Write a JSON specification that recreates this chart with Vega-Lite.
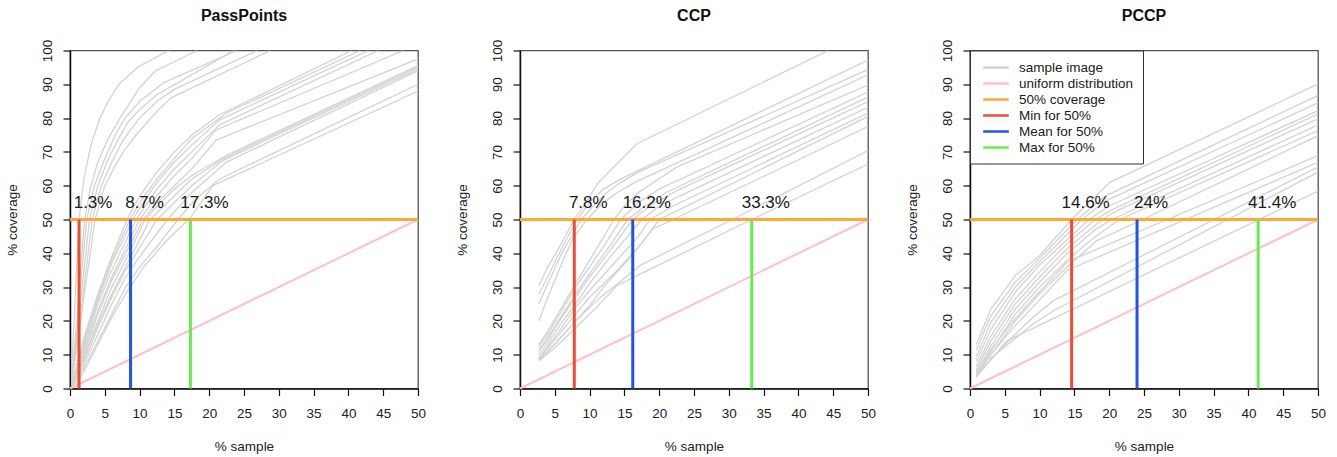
{
  "$schema": "https://vega.github.io/schema/vega-lite/v6.json",
  "background": "white",
  "padding": {"left": 4, "top": 7.5, "right": 5, "bottom": 5},
  "bounds": "flush",
  "spacing": 102,
  "datasets": {
    "curves": [
      {"p":"PassPoints","c":"A1","x":0.3,"y":8},{"p":"PassPoints","c":"A1","x":0.7,"y":25},{"p":"PassPoints","c":"A1","x":1.0,"y":38},{"p":"PassPoints","c":"A1","x":1.3,"y":50},{"p":"PassPoints","c":"A1","x":2,"y":62},{"p":"PassPoints","c":"A1","x":3,"y":72},{"p":"PassPoints","c":"A1","x":4.3,"y":80},{"p":"PassPoints","c":"A1","x":5.5,"y":85},{"p":"PassPoints","c":"A1","x":7,"y":90},{"p":"PassPoints","c":"A1","x":9.7,"y":95},{"p":"PassPoints","c":"A1","x":14.2,"y":100},
      {"p":"PassPoints","c":"A2","x":0.3,"y":5},{"p":"PassPoints","c":"A2","x":1,"y":20},{"p":"PassPoints","c":"A2","x":1.5,"y":35},{"p":"PassPoints","c":"A2","x":2.1,"y":50},{"p":"PassPoints","c":"A2","x":3,"y":60},{"p":"PassPoints","c":"A2","x":4,"y":67},{"p":"PassPoints","c":"A2","x":5.5,"y":74},{"p":"PassPoints","c":"A2","x":7.2,"y":80},{"p":"PassPoints","c":"A2","x":10,"y":89},{"p":"PassPoints","c":"A2","x":12.3,"y":94},{"p":"PassPoints","c":"A2","x":18.3,"y":100},
      {"p":"PassPoints","c":"A3","x":0.3,"y":4},{"p":"PassPoints","c":"A3","x":1,"y":17},{"p":"PassPoints","c":"A3","x":1.7,"y":35},{"p":"PassPoints","c":"A3","x":2.4,"y":50},{"p":"PassPoints","c":"A3","x":3.5,"y":60},{"p":"PassPoints","c":"A3","x":5,"y":68},{"p":"PassPoints","c":"A3","x":6.5,"y":75},{"p":"PassPoints","c":"A3","x":7.9,"y":80},{"p":"PassPoints","c":"A3","x":10,"y":85},{"p":"PassPoints","c":"A3","x":13.5,"y":90.5},{"p":"PassPoints","c":"A3","x":24,"y":100},
      {"p":"PassPoints","c":"A4","x":0.3,"y":4},{"p":"PassPoints","c":"A4","x":1,"y":15},{"p":"PassPoints","c":"A4","x":2,"y":35},{"p":"PassPoints","c":"A4","x":2.8,"y":50},{"p":"PassPoints","c":"A4","x":4,"y":60},{"p":"PassPoints","c":"A4","x":5.5,"y":68},{"p":"PassPoints","c":"A4","x":7,"y":74},{"p":"PassPoints","c":"A4","x":8.4,"y":79},{"p":"PassPoints","c":"A4","x":10,"y":82.5},{"p":"PassPoints","c":"A4","x":12.5,"y":87},{"p":"PassPoints","c":"A4","x":16,"y":91},{"p":"PassPoints","c":"A4","x":23.5,"y":100},
      {"p":"PassPoints","c":"A5","x":0.3,"y":3},{"p":"PassPoints","c":"A5","x":1,"y":13},{"p":"PassPoints","c":"A5","x":2,"y":30},{"p":"PassPoints","c":"A5","x":3.2,"y":50},{"p":"PassPoints","c":"A5","x":4.5,"y":60},{"p":"PassPoints","c":"A5","x":6,"y":67},{"p":"PassPoints","c":"A5","x":7.5,"y":73},{"p":"PassPoints","c":"A5","x":8.5,"y":76},{"p":"PassPoints","c":"A5","x":10,"y":80},{"p":"PassPoints","c":"A5","x":12.5,"y":85},{"p":"PassPoints","c":"A5","x":15,"y":88.5},{"p":"PassPoints","c":"A5","x":26.9,"y":100},
      {"p":"PassPoints","c":"A6","x":0.3,"y":3},{"p":"PassPoints","c":"A6","x":1,"y":12},{"p":"PassPoints","c":"A6","x":2,"y":27},{"p":"PassPoints","c":"A6","x":3.6,"y":50},{"p":"PassPoints","c":"A6","x":5,"y":60},{"p":"PassPoints","c":"A6","x":6.5,"y":66},{"p":"PassPoints","c":"A6","x":8,"y":71},{"p":"PassPoints","c":"A6","x":9.5,"y":75},{"p":"PassPoints","c":"A6","x":12.5,"y":82},{"p":"PassPoints","c":"A6","x":14.5,"y":86},{"p":"PassPoints","c":"A6","x":28.8,"y":100},
      {"p":"PassPoints","c":"B1","x":0.3,"y":2},{"p":"PassPoints","c":"B1","x":1,"y":7},{"p":"PassPoints","c":"B1","x":2,"y":15},{"p":"PassPoints","c":"B1","x":4,"y":28},{"p":"PassPoints","c":"B1","x":6,"y":39},{"p":"PassPoints","c":"B1","x":8.2,"y":50},{"p":"PassPoints","c":"B1","x":10,"y":57},{"p":"PassPoints","c":"B1","x":12.5,"y":64},{"p":"PassPoints","c":"B1","x":15,"y":70},{"p":"PassPoints","c":"B1","x":17.5,"y":75},{"p":"PassPoints","c":"B1","x":21.5,"y":81},{"p":"PassPoints","c":"B1","x":40.5,"y":100},
      {"p":"PassPoints","c":"B2","x":0.3,"y":2},{"p":"PassPoints","c":"B2","x":1,"y":7},{"p":"PassPoints","c":"B2","x":2,"y":14},{"p":"PassPoints","c":"B2","x":4,"y":27},{"p":"PassPoints","c":"B2","x":6,"y":38},{"p":"PassPoints","c":"B2","x":8.6,"y":50},{"p":"PassPoints","c":"B2","x":10,"y":55},{"p":"PassPoints","c":"B2","x":12.5,"y":62},{"p":"PassPoints","c":"B2","x":15,"y":68},{"p":"PassPoints","c":"B2","x":17.5,"y":74},{"p":"PassPoints","c":"B2","x":22.5,"y":81.5},{"p":"PassPoints","c":"B2","x":41.7,"y":100},
      {"p":"PassPoints","c":"B3","x":0.3,"y":2},{"p":"PassPoints","c":"B3","x":1,"y":6},{"p":"PassPoints","c":"B3","x":2,"y":13},{"p":"PassPoints","c":"B3","x":4,"y":26},{"p":"PassPoints","c":"B3","x":6,"y":37},{"p":"PassPoints","c":"B3","x":9,"y":50},{"p":"PassPoints","c":"B3","x":10.5,"y":55},{"p":"PassPoints","c":"B3","x":12.5,"y":61},{"p":"PassPoints","c":"B3","x":15,"y":67},{"p":"PassPoints","c":"B3","x":17.5,"y":72},{"p":"PassPoints","c":"B3","x":21.5,"y":79.5},{"p":"PassPoints","c":"B3","x":42.9,"y":100},
      {"p":"PassPoints","c":"B4","x":0.3,"y":1.5},{"p":"PassPoints","c":"B4","x":1,"y":6},{"p":"PassPoints","c":"B4","x":2,"y":12},{"p":"PassPoints","c":"B4","x":4,"y":25},{"p":"PassPoints","c":"B4","x":6,"y":35},{"p":"PassPoints","c":"B4","x":9.5,"y":50},{"p":"PassPoints","c":"B4","x":12.5,"y":59},{"p":"PassPoints","c":"B4","x":15,"y":65},{"p":"PassPoints","c":"B4","x":17.5,"y":70},{"p":"PassPoints","c":"B4","x":21.5,"y":78},{"p":"PassPoints","c":"B4","x":44.3,"y":100},
      {"p":"PassPoints","c":"B5","x":0.3,"y":1.5},{"p":"PassPoints","c":"B5","x":1,"y":5},{"p":"PassPoints","c":"B5","x":2,"y":11},{"p":"PassPoints","c":"B5","x":4,"y":23},{"p":"PassPoints","c":"B5","x":6,"y":33},{"p":"PassPoints","c":"B5","x":10,"y":50},{"p":"PassPoints","c":"B5","x":12.5,"y":57},{"p":"PassPoints","c":"B5","x":15,"y":63},{"p":"PassPoints","c":"B5","x":17.5,"y":68},{"p":"PassPoints","c":"B5","x":21,"y":76.5},{"p":"PassPoints","c":"B5","x":47.9,"y":100},
      {"p":"PassPoints","c":"B6","x":0.3,"y":1},{"p":"PassPoints","c":"B6","x":1,"y":5},{"p":"PassPoints","c":"B6","x":2,"y":10},{"p":"PassPoints","c":"B6","x":4,"y":22},{"p":"PassPoints","c":"B6","x":6,"y":32},{"p":"PassPoints","c":"B6","x":10.5,"y":50},{"p":"PassPoints","c":"B6","x":12.5,"y":55},{"p":"PassPoints","c":"B6","x":15,"y":60},{"p":"PassPoints","c":"B6","x":17.5,"y":65},{"p":"PassPoints","c":"B6","x":21,"y":73.5},{"p":"PassPoints","c":"B6","x":50,"y":97.5},
      {"p":"PassPoints","c":"C1","x":0.3,"y":1},{"p":"PassPoints","c":"C1","x":1,"y":4},{"p":"PassPoints","c":"C1","x":2,"y":9},{"p":"PassPoints","c":"C1","x":4,"y":20},{"p":"PassPoints","c":"C1","x":6,"y":30},{"p":"PassPoints","c":"C1","x":8,"y":38},{"p":"PassPoints","c":"C1","x":10.8,"y":50},{"p":"PassPoints","c":"C1","x":12.5,"y":54},{"p":"PassPoints","c":"C1","x":15,"y":59},{"p":"PassPoints","c":"C1","x":17.5,"y":63},{"p":"PassPoints","c":"C1","x":22.5,"y":69},{"p":"PassPoints","c":"C1","x":50,"y":95.5},
      {"p":"PassPoints","c":"C2","x":0.3,"y":1},{"p":"PassPoints","c":"C2","x":1,"y":4},{"p":"PassPoints","c":"C2","x":2,"y":9},{"p":"PassPoints","c":"C2","x":4,"y":19},{"p":"PassPoints","c":"C2","x":6,"y":28},{"p":"PassPoints","c":"C2","x":8,"y":36},{"p":"PassPoints","c":"C2","x":11.5,"y":50},{"p":"PassPoints","c":"C2","x":15,"y":57},{"p":"PassPoints","c":"C2","x":17.5,"y":62},{"p":"PassPoints","c":"C2","x":22,"y":68},{"p":"PassPoints","c":"C2","x":50,"y":95},
      {"p":"PassPoints","c":"C3","x":0.3,"y":1},{"p":"PassPoints","c":"C3","x":1,"y":4},{"p":"PassPoints","c":"C3","x":2,"y":8},{"p":"PassPoints","c":"C3","x":4,"y":18},{"p":"PassPoints","c":"C3","x":6,"y":27},{"p":"PassPoints","c":"C3","x":8,"y":35},{"p":"PassPoints","c":"C3","x":12.5,"y":50},{"p":"PassPoints","c":"C3","x":15,"y":55},{"p":"PassPoints","c":"C3","x":17.5,"y":60},{"p":"PassPoints","c":"C3","x":22,"y":67.5},{"p":"PassPoints","c":"C3","x":50,"y":94.5},
      {"p":"PassPoints","c":"C4","x":0.3,"y":1},{"p":"PassPoints","c":"C4","x":1,"y":3},{"p":"PassPoints","c":"C4","x":2,"y":7},{"p":"PassPoints","c":"C4","x":4,"y":16},{"p":"PassPoints","c":"C4","x":6,"y":25},{"p":"PassPoints","c":"C4","x":8,"y":33},{"p":"PassPoints","c":"C4","x":10,"y":39},{"p":"PassPoints","c":"C4","x":14,"y":50},{"p":"PassPoints","c":"C4","x":17.5,"y":58},{"p":"PassPoints","c":"C4","x":22.5,"y":67},{"p":"PassPoints","c":"C4","x":50,"y":94},
      {"p":"PassPoints","c":"C5","x":0.3,"y":1},{"p":"PassPoints","c":"C5","x":1,"y":3},{"p":"PassPoints","c":"C5","x":2,"y":6},{"p":"PassPoints","c":"C5","x":4,"y":14},{"p":"PassPoints","c":"C5","x":6,"y":22},{"p":"PassPoints","c":"C5","x":8,"y":30},{"p":"PassPoints","c":"C5","x":10,"y":36},{"p":"PassPoints","c":"C5","x":12.5,"y":42},{"p":"PassPoints","c":"C5","x":15.5,"y":50},{"p":"PassPoints","c":"C5","x":18,"y":56},{"p":"PassPoints","c":"C5","x":21.5,"y":62},{"p":"PassPoints","c":"C5","x":50,"y":90},
      {"p":"PassPoints","c":"C6","x":0.3,"y":0.5},{"p":"PassPoints","c":"C6","x":1,"y":2},{"p":"PassPoints","c":"C6","x":2,"y":5},{"p":"PassPoints","c":"C6","x":4,"y":13},{"p":"PassPoints","c":"C6","x":6,"y":21},{"p":"PassPoints","c":"C6","x":8,"y":28},{"p":"PassPoints","c":"C6","x":10.6,"y":36},{"p":"PassPoints","c":"C6","x":14,"y":44},{"p":"PassPoints","c":"C6","x":17.3,"y":50.5},{"p":"PassPoints","c":"C6","x":20.5,"y":60},{"p":"PassPoints","c":"C6","x":50,"y":88},

      {"p":"CCP","c":"U1","x":2.7,"y":30.4},{"p":"CCP","c":"U1","x":4,"y":36},{"p":"CCP","c":"U1","x":5.7,"y":42},{"p":"CCP","c":"U1","x":7.8,"y":50},{"p":"CCP","c":"U1","x":9.5,"y":55},{"p":"CCP","c":"U1","x":11.1,"y":60.5},{"p":"CCP","c":"U1","x":13.7,"y":66},{"p":"CCP","c":"U1","x":16.8,"y":72.4},{"p":"CCP","c":"U1","x":44.3,"y":100},
      {"p":"CCP","c":"U2","x":2.7,"y":27.9},{"p":"CCP","c":"U2","x":4,"y":33},{"p":"CCP","c":"U2","x":6,"y":41.5},{"p":"CCP","c":"U2","x":8.2,"y":50},{"p":"CCP","c":"U2","x":10,"y":55},{"p":"CCP","c":"U2","x":12,"y":59},{"p":"CCP","c":"U2","x":14.5,"y":62},{"p":"CCP","c":"U2","x":17.5,"y":65},{"p":"CCP","c":"U2","x":50,"y":97.2},
      {"p":"CCP","c":"U3","x":2.7,"y":25},{"p":"CCP","c":"U3","x":4,"y":31},{"p":"CCP","c":"U3","x":6,"y":40},{"p":"CCP","c":"U3","x":8.8,"y":50},{"p":"CCP","c":"U3","x":10.5,"y":54},{"p":"CCP","c":"U3","x":12.5,"y":58},{"p":"CCP","c":"U3","x":14.5,"y":61},{"p":"CCP","c":"U3","x":17,"y":64},{"p":"CCP","c":"U3","x":50,"y":94.4},
      {"p":"CCP","c":"U4","x":2.7,"y":20},{"p":"CCP","c":"U4","x":4,"y":27},{"p":"CCP","c":"U4","x":6,"y":37},{"p":"CCP","c":"U4","x":7.5,"y":44},{"p":"CCP","c":"U4","x":9.6,"y":50},{"p":"CCP","c":"U4","x":12,"y":55},{"p":"CCP","c":"U4","x":14,"y":58},{"p":"CCP","c":"U4","x":16.5,"y":61},{"p":"CCP","c":"U4","x":50,"y":92.8},
      {"p":"CCP","c":"M1","x":2.7,"y":13},{"p":"CCP","c":"M1","x":4,"y":17},{"p":"CCP","c":"M1","x":6,"y":24},{"p":"CCP","c":"M1","x":8,"y":31},{"p":"CCP","c":"M1","x":10,"y":38},{"p":"CCP","c":"M1","x":11.5,"y":43},{"p":"CCP","c":"M1","x":13.5,"y":50},{"p":"CCP","c":"M1","x":15,"y":54},{"p":"CCP","c":"M1","x":17,"y":58},{"p":"CCP","c":"M1","x":22.5,"y":65.5},{"p":"CCP","c":"M1","x":50,"y":89.8},
      {"p":"CCP","c":"M2","x":2.7,"y":12.6},{"p":"CCP","c":"M2","x":4,"y":16},{"p":"CCP","c":"M2","x":6,"y":23},{"p":"CCP","c":"M2","x":8,"y":30},{"p":"CCP","c":"M2","x":10,"y":36},{"p":"CCP","c":"M2","x":12,"y":42},{"p":"CCP","c":"M2","x":14.5,"y":50},{"p":"CCP","c":"M2","x":17,"y":55},{"p":"CCP","c":"M2","x":20,"y":59},{"p":"CCP","c":"M2","x":50,"y":87.7},
      {"p":"CCP","c":"M3","x":2.7,"y":11.6},{"p":"CCP","c":"M3","x":4,"y":15},{"p":"CCP","c":"M3","x":6,"y":21.5},{"p":"CCP","c":"M3","x":8,"y":28},{"p":"CCP","c":"M3","x":10,"y":34},{"p":"CCP","c":"M3","x":12.5,"y":41},{"p":"CCP","c":"M3","x":15.5,"y":50},{"p":"CCP","c":"M3","x":18,"y":54},{"p":"CCP","c":"M3","x":21,"y":58},{"p":"CCP","c":"M3","x":50,"y":86.2},
      {"p":"CCP","c":"M4","x":2.7,"y":11},{"p":"CCP","c":"M4","x":4,"y":14.5},{"p":"CCP","c":"M4","x":6,"y":21},{"p":"CCP","c":"M4","x":8,"y":27},{"p":"CCP","c":"M4","x":10,"y":33},{"p":"CCP","c":"M4","x":13,"y":41},{"p":"CCP","c":"M4","x":16.2,"y":50},{"p":"CCP","c":"M4","x":19,"y":54.5},{"p":"CCP","c":"M4","x":23,"y":59},{"p":"CCP","c":"M4","x":50,"y":84.9},
      {"p":"CCP","c":"M5","x":2.7,"y":10},{"p":"CCP","c":"M5","x":4,"y":13.5},{"p":"CCP","c":"M5","x":6,"y":19.5},{"p":"CCP","c":"M5","x":8,"y":25},{"p":"CCP","c":"M5","x":10,"y":31},{"p":"CCP","c":"M5","x":13,"y":39},{"p":"CCP","c":"M5","x":17.5,"y":50},{"p":"CCP","c":"M5","x":20,"y":54},{"p":"CCP","c":"M5","x":23,"y":57},{"p":"CCP","c":"M5","x":50,"y":83.2},
      {"p":"CCP","c":"M6","x":2.7,"y":9},{"p":"CCP","c":"M6","x":4,"y":12.5},{"p":"CCP","c":"M6","x":6,"y":18},{"p":"CCP","c":"M6","x":8,"y":24},{"p":"CCP","c":"M6","x":10,"y":29},{"p":"CCP","c":"M6","x":13.5,"y":37},{"p":"CCP","c":"M6","x":17,"y":45},{"p":"CCP","c":"M6","x":18.7,"y":50},{"p":"CCP","c":"M6","x":22,"y":54},{"p":"CCP","c":"M6","x":50,"y":81.5},
      {"p":"CCP","c":"M7","x":2.7,"y":8.7},{"p":"CCP","c":"M7","x":4,"y":12},{"p":"CCP","c":"M7","x":6,"y":17},{"p":"CCP","c":"M7","x":8,"y":22},{"p":"CCP","c":"M7","x":10,"y":27},{"p":"CCP","c":"M7","x":14,"y":35},{"p":"CCP","c":"M7","x":17.5,"y":43},{"p":"CCP","c":"M7","x":20,"y":50},{"p":"CCP","c":"M7","x":23,"y":53},{"p":"CCP","c":"M7","x":50,"y":80.5},
      {"p":"CCP","c":"L1","x":2.7,"y":8.2},{"p":"CCP","c":"L1","x":4,"y":11},{"p":"CCP","c":"L1","x":6,"y":15.5},{"p":"CCP","c":"L1","x":8,"y":20},{"p":"CCP","c":"L1","x":10,"y":24.5},{"p":"CCP","c":"L1","x":12,"y":30},{"p":"CCP","c":"L1","x":15.5,"y":38},{"p":"CCP","c":"L1","x":19.1,"y":47.2},{"p":"CCP","c":"L1","x":22,"y":50},{"p":"CCP","c":"L1","x":50,"y":77.5},
      {"p":"CCP","c":"L2","x":2.7,"y":8.5},{"p":"CCP","c":"L2","x":5,"y":13},{"p":"CCP","c":"L2","x":8,"y":20},{"p":"CCP","c":"L2","x":11,"y":26},{"p":"CCP","c":"L2","x":14,"y":31},{"p":"CCP","c":"L2","x":17.3,"y":36.5},{"p":"CCP","c":"L2","x":30.5,"y":50},{"p":"CCP","c":"L2","x":50,"y":70.4},
      {"p":"CCP","c":"L3","x":2.7,"y":8.2},{"p":"CCP","c":"L3","x":5,"y":12},{"p":"CCP","c":"L3","x":8,"y":18},{"p":"CCP","c":"L3","x":11,"y":24},{"p":"CCP","c":"L3","x":13.9,"y":30.4},{"p":"CCP","c":"L3","x":16.8,"y":33.4},{"p":"CCP","c":"L3","x":33.3,"y":50},{"p":"CCP","c":"L3","x":50,"y":66.4},

      {"p":"PCCP","c":"P1","x":0.9,"y":13},{"p":"PCCP","c":"P1","x":3,"y":23.5},{"p":"PCCP","c":"P1","x":6.5,"y":33.4},{"p":"PCCP","c":"P1","x":10,"y":39.3},{"p":"PCCP","c":"P1","x":14.6,"y":50},{"p":"PCCP","c":"P1","x":20.1,"y":61},{"p":"PCCP","c":"P1","x":50,"y":90.1},
      {"p":"PCCP","c":"P2","x":0.9,"y":11.5},{"p":"PCCP","c":"P2","x":3,"y":21.5},{"p":"PCCP","c":"P2","x":6.5,"y":31.5},{"p":"PCCP","c":"P2","x":10,"y":38.5},{"p":"PCCP","c":"P2","x":15.4,"y":50},{"p":"PCCP","c":"P2","x":19.5,"y":57},{"p":"PCCP","c":"P2","x":50,"y":86.7},
      {"p":"PCCP","c":"P3","x":0.9,"y":9.5},{"p":"PCCP","c":"P3","x":3,"y":19.5},{"p":"PCCP","c":"P3","x":6.5,"y":30},{"p":"PCCP","c":"P3","x":10,"y":37.5},{"p":"PCCP","c":"P3","x":16.1,"y":50},{"p":"PCCP","c":"P3","x":19.5,"y":55.5},{"p":"PCCP","c":"P3","x":50,"y":84.5},
      {"p":"PCCP","c":"P4","x":0.9,"y":8},{"p":"PCCP","c":"P4","x":3,"y":17.5},{"p":"PCCP","c":"P4","x":6.5,"y":28.5},{"p":"PCCP","c":"P4","x":10,"y":36.5},{"p":"PCCP","c":"P4","x":17.1,"y":50},{"p":"PCCP","c":"P4","x":20,"y":54},{"p":"PCCP","c":"P4","x":50,"y":82.2},
      {"p":"PCCP","c":"P5","x":0.9,"y":6.5},{"p":"PCCP","c":"P5","x":3,"y":15.5},{"p":"PCCP","c":"P5","x":6.5,"y":26.5},{"p":"PCCP","c":"P5","x":10,"y":34.5},{"p":"PCCP","c":"P5","x":14,"y":43},{"p":"PCCP","c":"P5","x":18,"y":50},{"p":"PCCP","c":"P5","x":20.5,"y":53},{"p":"PCCP","c":"P5","x":50,"y":81.2},
      {"p":"PCCP","c":"P6","x":0.9,"y":5.5},{"p":"PCCP","c":"P6","x":3,"y":14},{"p":"PCCP","c":"P6","x":6.5,"y":25},{"p":"PCCP","c":"P6","x":10,"y":33},{"p":"PCCP","c":"P6","x":14,"y":41.5},{"p":"PCCP","c":"P6","x":19,"y":50},{"p":"PCCP","c":"P6","x":21,"y":52.5},{"p":"PCCP","c":"P6","x":50,"y":79.8},
      {"p":"PCCP","c":"P7","x":0.9,"y":4.5},{"p":"PCCP","c":"P7","x":3,"y":12.5},{"p":"PCCP","c":"P7","x":6.5,"y":23.5},{"p":"PCCP","c":"P7","x":10,"y":31.5},{"p":"PCCP","c":"P7","x":14,"y":40},{"p":"PCCP","c":"P7","x":18,"y":47},{"p":"PCCP","c":"P7","x":20.4,"y":50},{"p":"PCCP","c":"P7","x":50,"y":78},
      {"p":"PCCP","c":"P8","x":0.9,"y":4},{"p":"PCCP","c":"P8","x":3,"y":11},{"p":"PCCP","c":"P8","x":6.5,"y":22},{"p":"PCCP","c":"P8","x":10,"y":30},{"p":"PCCP","c":"P8","x":14,"y":38},{"p":"PCCP","c":"P8","x":18,"y":45},{"p":"PCCP","c":"P8","x":21.5,"y":50},{"p":"PCCP","c":"P8","x":50,"y":76.3},
      {"p":"PCCP","c":"P9","x":0.9,"y":3.5},{"p":"PCCP","c":"P9","x":3,"y":10},{"p":"PCCP","c":"P9","x":6.5,"y":20},{"p":"PCCP","c":"P9","x":10,"y":28},{"p":"PCCP","c":"P9","x":14,"y":36},{"p":"PCCP","c":"P9","x":18.2,"y":43.7},{"p":"PCCP","c":"P9","x":24.8,"y":50},{"p":"PCCP","c":"P9","x":50,"y":74.8},
      {"p":"PCCP","c":"L1","x":0.9,"y":5},{"p":"PCCP","c":"L1","x":3,"y":11.5},{"p":"PCCP","c":"L1","x":6,"y":19.5},{"p":"PCCP","c":"L1","x":9,"y":26.5},{"p":"PCCP","c":"L1","x":12,"y":33},{"p":"PCCP","c":"L1","x":14,"y":37.5},{"p":"PCCP","c":"L1","x":50,"y":68.9},
      {"p":"PCCP","c":"L2","x":0.9,"y":4},{"p":"PCCP","c":"L2","x":3,"y":10},{"p":"PCCP","c":"L2","x":6,"y":17.5},{"p":"PCCP","c":"L2","x":9,"y":24},{"p":"PCCP","c":"L2","x":14,"y":35},{"p":"PCCP","c":"L2","x":50,"y":66.9},
      {"p":"PCCP","c":"L3","x":0.9,"y":3.5},{"p":"PCCP","c":"L3","x":3,"y":8.7},{"p":"PCCP","c":"L3","x":6,"y":15},{"p":"PCCP","c":"L3","x":9,"y":21},{"p":"PCCP","c":"L3","x":12,"y":26},{"p":"PCCP","c":"L3","x":50,"y":65.5},
      {"p":"PCCP","c":"L4","x":2.8,"y":8.7},{"p":"PCCP","c":"L4","x":6,"y":14},{"p":"PCCP","c":"L4","x":9,"y":19},{"p":"PCCP","c":"L4","x":12,"y":23},{"p":"PCCP","c":"L4","x":50,"y":64},
      {"p":"PCCP","c":"L5","x":0.9,"y":3.3},{"p":"PCCP","c":"L5","x":3,"y":8.5},{"p":"PCCP","c":"L5","x":5.3,"y":14.1},{"p":"PCCP","c":"L5","x":50,"y":58.4}
    ],
    "uniform": [{"x": 0, "y": 0}, {"x": 50, "y": 50}],
    "stats": [
      {"p":"PassPoints","kind":"Min for 50%","x":1.3,"label":"1.3%"},
      {"p":"PassPoints","kind":"Mean for 50%","x":8.7,"label":"8.7%"},
      {"p":"PassPoints","kind":"Max for 50%","x":17.3,"label":"17.3%"},
      {"p":"CCP","kind":"Min for 50%","x":7.8,"label":"7.8%"},
      {"p":"CCP","kind":"Mean for 50%","x":16.2,"label":"16.2%"},
      {"p":"CCP","kind":"Max for 50%","x":33.3,"label":"33.3%"},
      {"p":"PCCP","kind":"Min for 50%","x":14.6,"label":"14.6%"},
      {"p":"PCCP","kind":"Mean for 50%","x":24,"label":"24%"},
      {"p":"PCCP","kind":"Max for 50%","x":41.4,"label":"41.4%"}
    ],
    "one": [{"k": "50% coverage"}]
  },
  "resolve": {"scale": {"color": "independent"}, "legend": {"color": "independent"}},
  "hconcat": [
    {
      "width": 348, "height": 338,
      "title": "PassPoints",
      "layer": [
        {"data": {"name": "curves"}, "transform": [{"filter": "datum.p === 'PassPoints'"}],
         "mark": {"type": "line", "strokeWidth": 1.3, "clip": true},
         "encoding": {
           "x": {"field": "x", "type": "quantitative", "scale": {"domain": [0, 50], "nice": false, "zero": true}, "title": "% sample"},
           "y": {"field": "y", "type": "quantitative", "scale": {"domain": [0, 100], "nice": false}, "title": "% coverage"},
           "detail": {"field": "c"},
           "color": {"datum": "sample image", "scale": {"domain": ["sample image","uniform distribution","50% coverage","Min for 50%","Mean for 50%","Max for 50%"], "range": ["#d3d3d3","#ffc0cb","#ffa83a","#f24b2f","#1f52f5","#63ee4f"]}, "legend": null}
         }},
        {"data": {"name": "uniform"}, "mark": {"type": "line", "strokeWidth": 2},
         "encoding": {"x": {"field": "x", "type": "quantitative"}, "y": {"field": "y", "type": "quantitative"}, "color": {"datum": "uniform distribution", "legend": null}}},
        {"data": {"name": "one"}, "mark": {"type": "rule", "strokeWidth": 3},
         "encoding": {"y": {"datum": 50}, "color": {"datum": "50% coverage", "legend": null}}},
        {"data": {"name": "stats"}, "transform": [{"filter": "datum.p === 'PassPoints'"}], "mark": {"type": "rule", "strokeWidth": 3},
         "encoding": {"x": {"field": "x", "type": "quantitative"}, "y": {"datum": 0}, "y2": {"datum": 50}, "color": {"field": "kind", "type": "nominal", "legend": null}}},
        {"data": {"name": "stats"}, "transform": [{"filter": "datum.p === 'PassPoints'"}], "mark": {"type": "text", "dx": 14, "fontSize": 17, "baseline": "middle", "align": "center", "color": "#1a1a1a"},
         "encoding": {"x": {"field": "x", "type": "quantitative"}, "y": {"datum": 55}, "text": {"field": "label"}}}
      ]
    },
    {
      "width": 348, "height": 338,
      "title": "CCP",
      "layer": [
        {"data": {"name": "curves"}, "transform": [{"filter": "datum.p === 'CCP'"}],
         "mark": {"type": "line", "strokeWidth": 1.3, "clip": true},
         "encoding": {
           "x": {"field": "x", "type": "quantitative", "scale": {"domain": [0, 50], "nice": false, "zero": true}, "title": "% sample"},
           "y": {"field": "y", "type": "quantitative", "scale": {"domain": [0, 100], "nice": false}, "title": "% coverage"},
           "detail": {"field": "c"},
           "color": {"datum": "sample image", "scale": {"domain": ["sample image","uniform distribution","50% coverage","Min for 50%","Mean for 50%","Max for 50%"], "range": ["#d3d3d3","#ffc0cb","#ffa83a","#f24b2f","#1f52f5","#63ee4f"]}, "legend": null}
         }},
        {"data": {"name": "uniform"}, "mark": {"type": "line", "strokeWidth": 2},
         "encoding": {"x": {"field": "x", "type": "quantitative"}, "y": {"field": "y", "type": "quantitative"}, "color": {"datum": "uniform distribution", "legend": null}}},
        {"data": {"name": "one"}, "mark": {"type": "rule", "strokeWidth": 3},
         "encoding": {"y": {"datum": 50}, "color": {"datum": "50% coverage", "legend": null}}},
        {"data": {"name": "stats"}, "transform": [{"filter": "datum.p === 'CCP'"}], "mark": {"type": "rule", "strokeWidth": 3},
         "encoding": {"x": {"field": "x", "type": "quantitative"}, "y": {"datum": 0}, "y2": {"datum": 50}, "color": {"field": "kind", "type": "nominal", "legend": null}}},
        {"data": {"name": "stats"}, "transform": [{"filter": "datum.p === 'CCP'"}], "mark": {"type": "text", "dx": 14, "fontSize": 17, "baseline": "middle", "align": "center", "color": "#1a1a1a"},
         "encoding": {"x": {"field": "x", "type": "quantitative"}, "y": {"datum": 55}, "text": {"field": "label"}}}
      ]
    },
    {
      "width": 348, "height": 338,
      "title": "PCCP",
      "layer": [
        {"data": {"name": "curves"}, "transform": [{"filter": "datum.p === 'PCCP'"}],
         "mark": {"type": "line", "strokeWidth": 1.3, "clip": true},
         "encoding": {
           "x": {"field": "x", "type": "quantitative", "scale": {"domain": [0, 50], "nice": false, "zero": true}, "title": "% sample"},
           "y": {"field": "y", "type": "quantitative", "scale": {"domain": [0, 100], "nice": false}, "title": "% coverage"},
           "detail": {"field": "c"},
           "color": {"datum": "sample image", "title": null, "scale": {"domain": ["sample image","uniform distribution","50% coverage","Min for 50%","Mean for 50%","Max for 50%"], "range": ["#d3d3d3","#ffc0cb","#ffa83a","#f24b2f","#1f52f5","#63ee4f"]},
             "legend": {"title": null, "orient": "none", "legendX": 0, "legendY": 0, "direction": "vertical", "symbolType": "M-2,0H2", "symbolStrokeWidth": 2.5, "symbolSize": 164, "symbolOffset": 9, "labelFontSize": 13.5, "labelColor": "#1a1a1a", "labelOffset": 15, "rowPadding": 1, "padding": 9, "strokeColor": "#333333", "fillColor": "white", "cornerRadius": 0, "labelLimit": 300}}
         }},
        {"data": {"name": "uniform"}, "mark": {"type": "line", "strokeWidth": 2},
         "encoding": {"x": {"field": "x", "type": "quantitative"}, "y": {"field": "y", "type": "quantitative"}, "color": {"datum": "uniform distribution", "title": null}}},
        {"data": {"name": "one"}, "mark": {"type": "rule", "strokeWidth": 3},
         "encoding": {"y": {"datum": 50}, "color": {"datum": "50% coverage", "title": null}}},
        {"data": {"name": "stats"}, "transform": [{"filter": "datum.p === 'PCCP'"}], "mark": {"type": "rule", "strokeWidth": 3},
         "encoding": {"x": {"field": "x", "type": "quantitative"}, "y": {"datum": 0}, "y2": {"datum": 50}, "color": {"field": "kind", "type": "nominal", "title": null}}},
        {"data": {"name": "stats"}, "transform": [{"filter": "datum.p === 'PCCP'"}], "mark": {"type": "text", "dx": 14, "fontSize": 17, "baseline": "middle", "align": "center", "color": "#1a1a1a"},
         "encoding": {"x": {"field": "x", "type": "quantitative"}, "y": {"datum": 55}, "text": {"field": "label"}}}
      ]
    }
  ],
  "config": {
    "font": "Liberation Sans",
    "view": {"stroke": "#555555", "strokeWidth": 1.3},
    "axis": {"grid": false, "domainColor": "#111111", "domainWidth": 1.5, "tickColor": "#111111", "tickWidth": 1.2, "tickSize": 7, "labelFontSize": 13.5, "labelColor": "#222222", "titleFontSize": 13.5, "titleFontWeight": "normal", "titleColor": "#222222", "labelFont": "Liberation Sans", "titleFont": "Liberation Sans", "labelOverlap": false, "labelFlush": false, "tickCount": 10},
    "axisX": {"labelPadding": 11, "titlePadding": 19, "labelAngle": 0},
    "axisY": {"labelAngle": -90, "labelAlign": "center", "labelBaseline": "alphabetic", "labelPadding": 12, "titlePadding": 21},
    "title": {"fontSize": 16, "fontWeight": "bold", "frame": "group", "anchor": "middle", "baseline": "alphabetic", "offset": 15, "color": "#111111", "font": "Liberation Sans"}
  }
}
